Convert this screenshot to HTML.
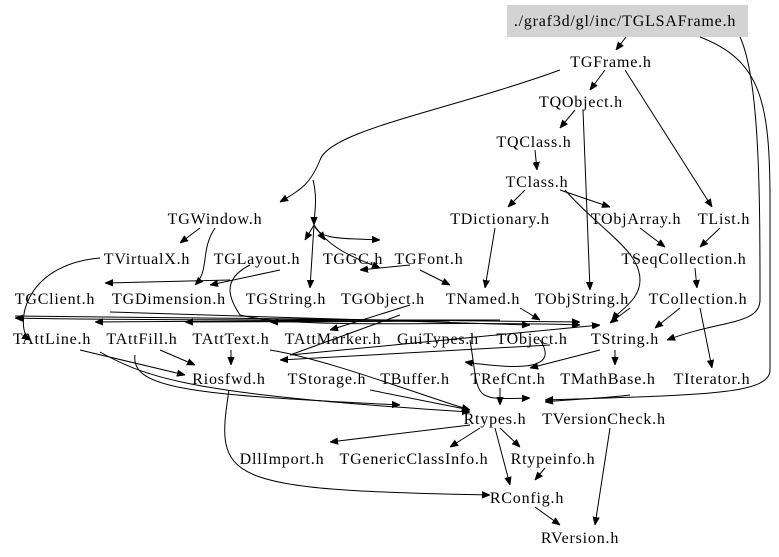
<!DOCTYPE html>
<html><head><meta charset="utf-8"><style>
html,body{margin:0;padding:0;background:#fff;}
svg{display:block;}
text{font-family:"Liberation Serif",serif;font-size:16px;letter-spacing:0.8px;fill:#000;text-anchor:middle;}
path{fill:none;stroke:#000;stroke-width:1;}
</style></head><body>
<svg width="779" height="557" viewBox="0 0 779 557" xmlns="http://www.w3.org/2000/svg">
<defs><marker id="a" viewBox="0 0 10 10" refX="10" refY="5" markerWidth="8" markerHeight="8" orient="auto"><path d="M0,1 L10,5 L0,9 z" style="fill:#000;stroke:#000"/></marker></defs>
<rect x="507" y="5" width="241" height="32" fill="#d3d3d3"/>
<g marker-end="url(#a)">
<path d="M626,37 L616,50"/>
<path d="M700,37 C760,60 770,100 770,200 L770,370 C770,395 700,395 545,400"/>
<path d="M740,37 C760,80 760,200 760,300 C760,325 720,320 667,340"/>
<path d="M605,70 L590,90"/>
<path d="M625,70 L712,207"/>
<path d="M560,70 C450,110 330,130 320,160 C310,185 300,190 280,202"/>
<path d="M575,110 L560,128"/>
<path d="M583,110 L590,290"/>
<path d="M535,150 L537,170"/>
<path d="M525,190 L508,207"/>
<path d="M560,190 L610,207"/>
<path d="M565,190 C600,230 640,250 640,280 C640,300 620,310 612,320"/>
<path d="M640,228 L665,247"/>
<path d="M720,228 L700,247"/>
<path d="M695,268 L697,288"/>
<path d="M700,308 L712,368"/>
<path d="M680,308 L655,328"/>
<path d="M630,308 L610,323"/>
<path d="M495,228 L485,288"/>
<path d="M520,308 L540,320"/>
<path d="M200,228 L180,243"/>
<path d="M313,180 C318,200 314,215 314,225"/>
<path d="M314,225 C320,240 340,238 380,240"/>
<path d="M314,225 L305,240"/>
<path d="M314,225 L325,240"/>
<path d="M314,225 L310,288"/>
<path d="M314,225 C330,250 360,260 380,268"/>
<path d="M215,228 C200,250 210,270 195,285"/>
<path d="M100,258 C20,265 15,330 30,340"/>
<path d="M280,270 L210,285"/>
<path d="M230,280 L105,283"/>
<path d="M250,265 C220,280 230,300 240,315 C300,330 450,320 580,325"/>
<path d="M15,316 L580,322"/>
<path d="M110,312 L530,325"/>
<path d="M500,320 C300,320 100,320 15,318"/>
<path d="M400,320 L95,322"/>
<path d="M420,321 L185,322"/>
<path d="M450,321 L270,322"/>
<path d="M410,265 L360,270"/>
<path d="M420,270 L450,285"/>
<path d="M410,305 L330,330"/>
<path d="M400,315 L290,355 L600,325"/>
<path d="M80,350 L185,375"/>
<path d="M100,352 C150,380 200,395 470,412"/>
<path d="M160,350 L195,365"/>
<path d="M135,355 C130,390 200,395 400,405"/>
<path d="M231,350 L231,365"/>
<path d="M270,350 C330,360 420,395 470,410"/>
<path d="M550,345 L280,360"/>
<path d="M540,340 C560,370 520,370 465,362"/>
<path d="M600,350 L530,368"/>
<path d="M615,350 L615,365"/>
<path d="M470,340 C480,400 470,400 530,398"/>
<path d="M630,395 C610,398 560,400 545,402"/>
<path d="M500,388 L500,405"/>
<path d="M370,390 L470,410"/>
<path d="M470,425 L330,442"/>
<path d="M480,428 L450,447"/>
<path d="M500,428 L520,447"/>
<path d="M495,428 L510,485"/>
<path d="M545,468 L535,480"/>
<path d="M229,390 C215,480 220,490 490,495"/>
<path d="M610,428 L595,525"/>
<path d="M535,507 L560,525"/>
</g>
<text x="625" y="26">./graf3d/gl/inc/TGLSAFrame.h</text>
<text x="611" y="67">TGFrame.h</text>
<text x="581" y="107">TQObject.h</text>
<text x="534" y="147">TQClass.h</text>
<text x="537" y="187">TClass.h</text>
<text x="215" y="224">TGWindow.h</text>
<text x="500" y="224">TDictionary.h</text>
<text x="636" y="224">TObjArray.h</text>
<text x="724" y="224">TList.h</text>
<text x="147" y="264">TVirtualX.h</text>
<text x="257" y="264">TGLayout.h</text>
<text x="353" y="264">TGGC.h</text>
<text x="429" y="264">TGFont.h</text>
<text x="684" y="264">TSeqCollection.h</text>
<text x="55" y="304">TGClient.h</text>
<text x="169" y="304">TGDimension.h</text>
<text x="286" y="304">TGString.h</text>
<text x="383" y="304">TGObject.h</text>
<text x="483" y="304">TNamed.h</text>
<text x="582" y="304">TObjString.h</text>
<text x="698" y="304">TCollection.h</text>
<text x="52" y="344">TAttLine.h</text>
<text x="142" y="344">TAttFill.h</text>
<text x="231" y="344">TAttText.h</text>
<text x="333" y="344">TAttMarker.h</text>
<text x="438" y="344">GuiTypes.h</text>
<text x="532" y="344">TObject.h</text>
<text x="625" y="344">TString.h</text>
<text x="229" y="384">Riosfwd.h</text>
<text x="327" y="384">TStorage.h</text>
<text x="415" y="384">TBuffer.h</text>
<text x="508" y="384">TRefCnt.h</text>
<text x="608" y="384">TMathBase.h</text>
<text x="712" y="384">TIterator.h</text>
<text x="495" y="424">Rtypes.h</text>
<text x="604" y="424">TVersionCheck.h</text>
<text x="282" y="464">DllImport.h</text>
<text x="414" y="464">TGenericClassInfo.h</text>
<text x="553" y="464">Rtypeinfo.h</text>
<text x="527" y="503">RConfig.h</text>
<text x="580" y="543">RVersion.h</text>
</svg>
</body></html>
